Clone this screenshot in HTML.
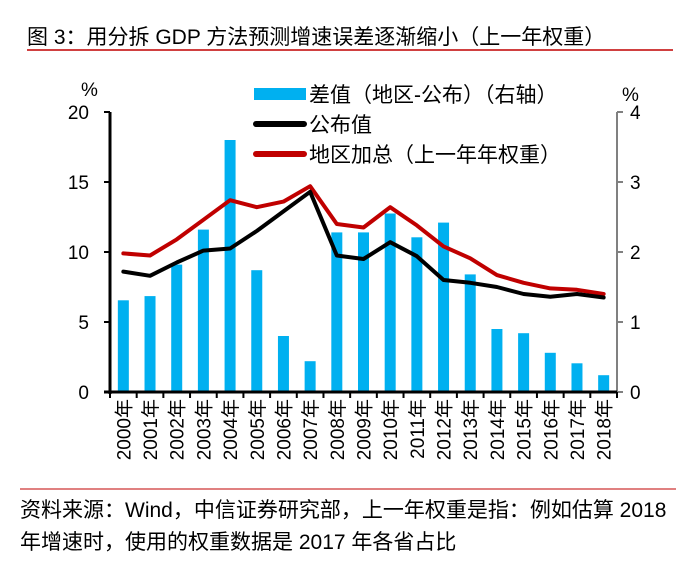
<!DOCTYPE html>
<html><head><meta charset="utf-8"><style>
body{margin:0;background:#fff;width:696px;height:571px;overflow:hidden;font-family:"Liberation Sans","Noto Sans CJK SC",sans-serif;}
</style></head><body>
<svg width="696" height="571" xmlns="http://www.w3.org/2000/svg" style="font-family:'Liberation Sans','Noto Sans CJK SC',sans-serif">
<text x="27" y="44" font-size="21" fill="#000">图 3：用分拆 GDP 方法预测增速误差逐渐缩小（上一年权重）</text>
<line x1="27" y1="50" x2="673" y2="50" stroke="#c00000" stroke-width="1.5"/>
<g id="chart"></g>
<line x1="20" y1="489" x2="676" y2="489" stroke="#c00000" stroke-width="1"/>
<text x="20" y="517" font-size="21" fill="#000">资料来源：Wind，中信证券研究部，上一年权重是指：例如估算 2018</text>
<text x="20" y="549" font-size="21" fill="#000">年增速时，使用的权重数据是 2017 年各省占比</text>
</svg>
<script>
const categories=["2000年","2001年","2002年","2003年","2004年","2005年","2006年","2007年","2008年","2009年","2010年","2011年","2012年","2013年","2014年","2015年","2016年","2017年","2018年"];
const diffValues=[1.31,1.37,1.82,2.32,3.60,1.74,0.80,0.44,2.28,2.28,2.55,2.21,2.42,1.68,0.90,0.84,0.56,0.41,0.24];
const officialValues=[8.6,8.3,9.25,10.1,10.25,11.5,12.9,14.3,9.75,9.5,10.7,9.7,8.0,7.8,7.5,7.0,6.8,7.0,6.75];
const regionalValues=[9.9,9.75,10.9,12.3,13.7,13.2,13.6,14.7,12.0,11.75,13.2,11.9,10.4,9.55,8.35,7.8,7.4,7.3,7.0];
const leftTicks=[0,5,10,15,20];
const rightTicks=[0,1,2,3,4];
const NS="http://www.w3.org/2000/svg";
const g=document.getElementById('chart');
const X0=110,X1=617,Y0=392,Y1=112;
const step=(X1-X0)/categories.length;
const xC=i=>X0+step*(i+0.5);
const yL=v=>Y0-(v/20)*(Y0-Y1);
const yR=v=>Y0-(v/4)*(Y0-Y1);
function mk(t,a){const e=document.createElementNS(NS,t);for(const k in a)e.setAttribute(k,a[k]);g.appendChild(e);return e;}
diffValues.forEach((v,i)=>{
const r=mk('rect',{x:xC(i)-5.5,y:yR(v),width:11,height:Y0-yR(v),fill:'#00b0f0'});


});
function line(vals,color,name){
const p=mk('polyline',{points:vals.map((v,i)=>xC(i)+','+yL(v)).join(' '),fill:'none',stroke:color,'stroke-width':4,'stroke-linejoin':'round','stroke-linecap':'round'});


}
line(regionalValues,'#c00000','regional-sum-line');
line(officialValues,'#000','official-line');
let a=mk('line',{x1:X0,y1:Y1,x2:X0,y2:Y0+2,stroke:'#000','stroke-width':3});

leftTicks.forEach(v=>{
mk('line',{x1:X0-6,y1:yL(v),x2:X0,y2:yL(v),stroke:'#000','stroke-width':2});
const t=mk('text',{x:X0-21,y:yL(v)+7,'font-size':19,'text-anchor':'end'});t.textContent=v;

});
a=mk('line',{x1:X1,y1:Y1,x2:X1,y2:Y0,stroke:'#808080','stroke-width':2});

rightTicks.forEach(v=>{
mk('line',{x1:X1,y1:yR(v),x2:X1+6,y2:yR(v),stroke:'#808080','stroke-width':2});
const t=mk('text',{x:X1+13,y:yR(v)+7,'font-size':19});t.textContent=v;

});
a=mk('line',{x1:X0-6,y1:Y0,x2:X1,y2:Y0,stroke:'#000','stroke-width':3});

categories.forEach((c,i)=>{
mk('line',{x1:X0+step*i,y1:Y0,x2:X0+step*i,y2:Y0+6,stroke:'#000','stroke-width':2});
const t=mk('text',{transform:`translate(${xC(i)+7},399) rotate(-90)`,'font-size':19,'text-anchor':'end'});t.textContent=c;

});
mk('line',{x1:X1,y1:Y0,x2:X1,y2:Y0+6,stroke:'#000','stroke-width':2});
let t=mk('text',{x:81,y:96,'font-size':19});t.textContent='%';
t=mk('text',{x:622,y:101,'font-size':19});t.textContent='%';
mk('rect',{x:254,y:88,width:52,height:12,fill:'#00b0f0'});
t=mk('text',{x:309,y:102,'font-size':21});t.textContent='差值（地区-公布）（右轴）';
mk('line',{x1:256,y1:124,x2:304,y2:124,stroke:'#000','stroke-width':6,'stroke-linecap':'round'});
t=mk('text',{x:309,y:132,'font-size':21});t.textContent='公布值';
mk('line',{x1:256,y1:154,x2:304,y2:154,stroke:'#c00000','stroke-width':6,'stroke-linecap':'round'});
t=mk('text',{x:309,y:162,'font-size':21});t.textContent='地区加总（上一年年权重）';
</script>
</body></html>
